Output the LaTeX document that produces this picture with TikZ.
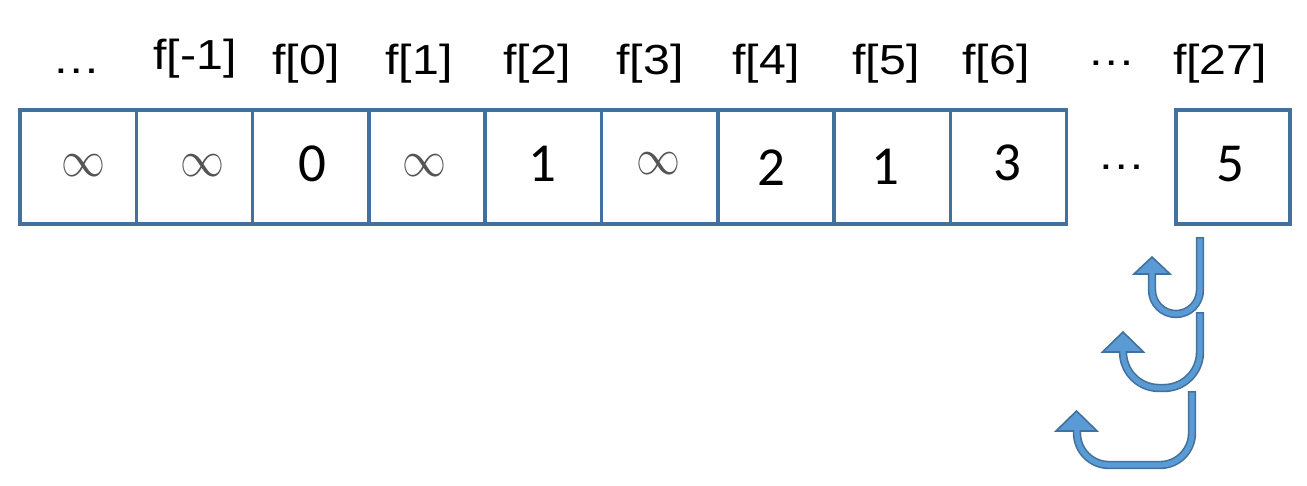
\RequirePackage{fix-cm}
\documentclass[tikz,border=0pt]{standalone}
\usepackage{fontspec}
\usepackage{graphicx}
\setmainfont{Liberation Sans}
\newfontfamily\valfont{Carlito}
\definecolor{cellborder}{HTML}{41719C}
\definecolor{arrfill}{HTML}{5B9BD5}
\definecolor{infgray}{HTML}{555555}
\tikzset{
  cell/.style={draw=cellborder, line width=3.5pt, minimum width=116.3pt, minimum height=114pt, inner sep=0pt},
  lab/.style={anchor=base, inner sep=0pt, font=\fontsize{42}{44}\selectfont},
  dots/.style={inner sep=0pt, font=\fontsize{42}{44}\selectfont},
  val/.style={inner sep=0pt, font=\valfont\fontsize{55}{57}\selectfont},
  inf/.style={inner sep=0pt, text=infgray, font=\fontsize{44}{46}\selectfont},
  shaftout/.style={draw=cellborder, line width=8.4pt},
  shaftin/.style={draw=arrfill, line width=5.2pt},
  ahead/.style={fill=arrfill, draw=cellborder, line width=1.6pt, line join=miter}
}
\newcommand{\infsym}{\scalebox{1}[1.15]{$\infty$}}
\newcommand{\wide}[1]{\scalebox{1.15}[1]{#1}}
\begin{document}
\begin{tikzpicture}[x=1pt,y=-1pt]
\useasboundingbox (0,0) rectangle (1307,485);
% cells
\foreach \i/\nm in {0/cm2,1/cm1,2/c0,3/c1,4/c2,5/c3,6/c4,7/c5,8/c6}{
  \node[cell] (\nm) at ({20+116.3*(\i+0.5)},167) {};
}
\node[cell, minimum width=114pt] (c27) at (1233,167) {};
% top labels
\node[lab] (l0) at (77,73) {\wide{\ldots}};
\node[lab] (l1) at (195,69) {\wide{f[-1]}};
\node[lab] (l2) at (306,74) {\wide{f[0]}};
\node[lab] (l3) at (419,74) {\wide{f[1]}};
\node[lab] (l4) at (537,74) {\wide{f[2]}};
\node[lab] (l5) at (650,74) {\wide{f[3]}};
\node[lab] (l6) at (766,74) {\wide{f[4]}};
\node[lab] (l7) at (886,74) {\wide{f[5]}};
\node[lab] (l8) at (996,74) {\wide{f[6]}};
\node[dots] (l9) at (1112,63) {\wide{\ldots}};
\node[lab] (l10) at (1220,74) {\wide{f[27]}};
% values
\node[inf] (v0) at (83,166) {\infsym};
\node[inf] (v1) at (202,166) {\infsym};
\node[val] (v2) at (312,164) {0};
\node[inf] (v3) at (424,166) {\infsym};
\node[val] (v4) at (542,164) {1};
\node[inf] (v5) at (658,164) {\infsym};
\node[val] (v6) at (771,168) {2};
\node[val] (v7) at (885,167) {1};
\node[val] (v8) at (1007,163) {3};
\node[dots] (vd) at (1122,167) {\wide{\ldots}};
\node[val] (v27) at (1230,164) {5};
% U-turn arrows
% arrow 1
\draw[shaftout, rounded corners=24pt] (1200,237) -- (1200,314) -- (1152,314) -- (1152,274);
\draw[ahead] (1152,257) -- (1170,274) -- (1134,274) -- cycle;
\draw[shaftin, rounded corners=24pt] (1200,238.6) -- (1200,314) -- (1152,314) -- (1152,271);
% arrow 2
\draw[shaftout, rounded corners=36pt] (1200,312) -- (1200,388) -- (1123,388) -- (1123,352);
\draw[ahead] (1123,332) -- (1143.5,352) -- (1102.5,352) -- cycle;
\draw[shaftin, rounded corners=36pt] (1200,313.6) -- (1200,388) -- (1123,388) -- (1123,349);
% arrow 3
\draw[shaftout, rounded corners=32pt] (1192,391) -- (1192,465) -- (1077,465) -- (1077,431);
\draw[ahead] (1076.5,411) -- (1097,431) -- (1056,431) -- cycle;
\draw[shaftin, rounded corners=32pt] (1192,392.6) -- (1192,465) -- (1077,465) -- (1077,428);
\end{tikzpicture}
\end{document}
